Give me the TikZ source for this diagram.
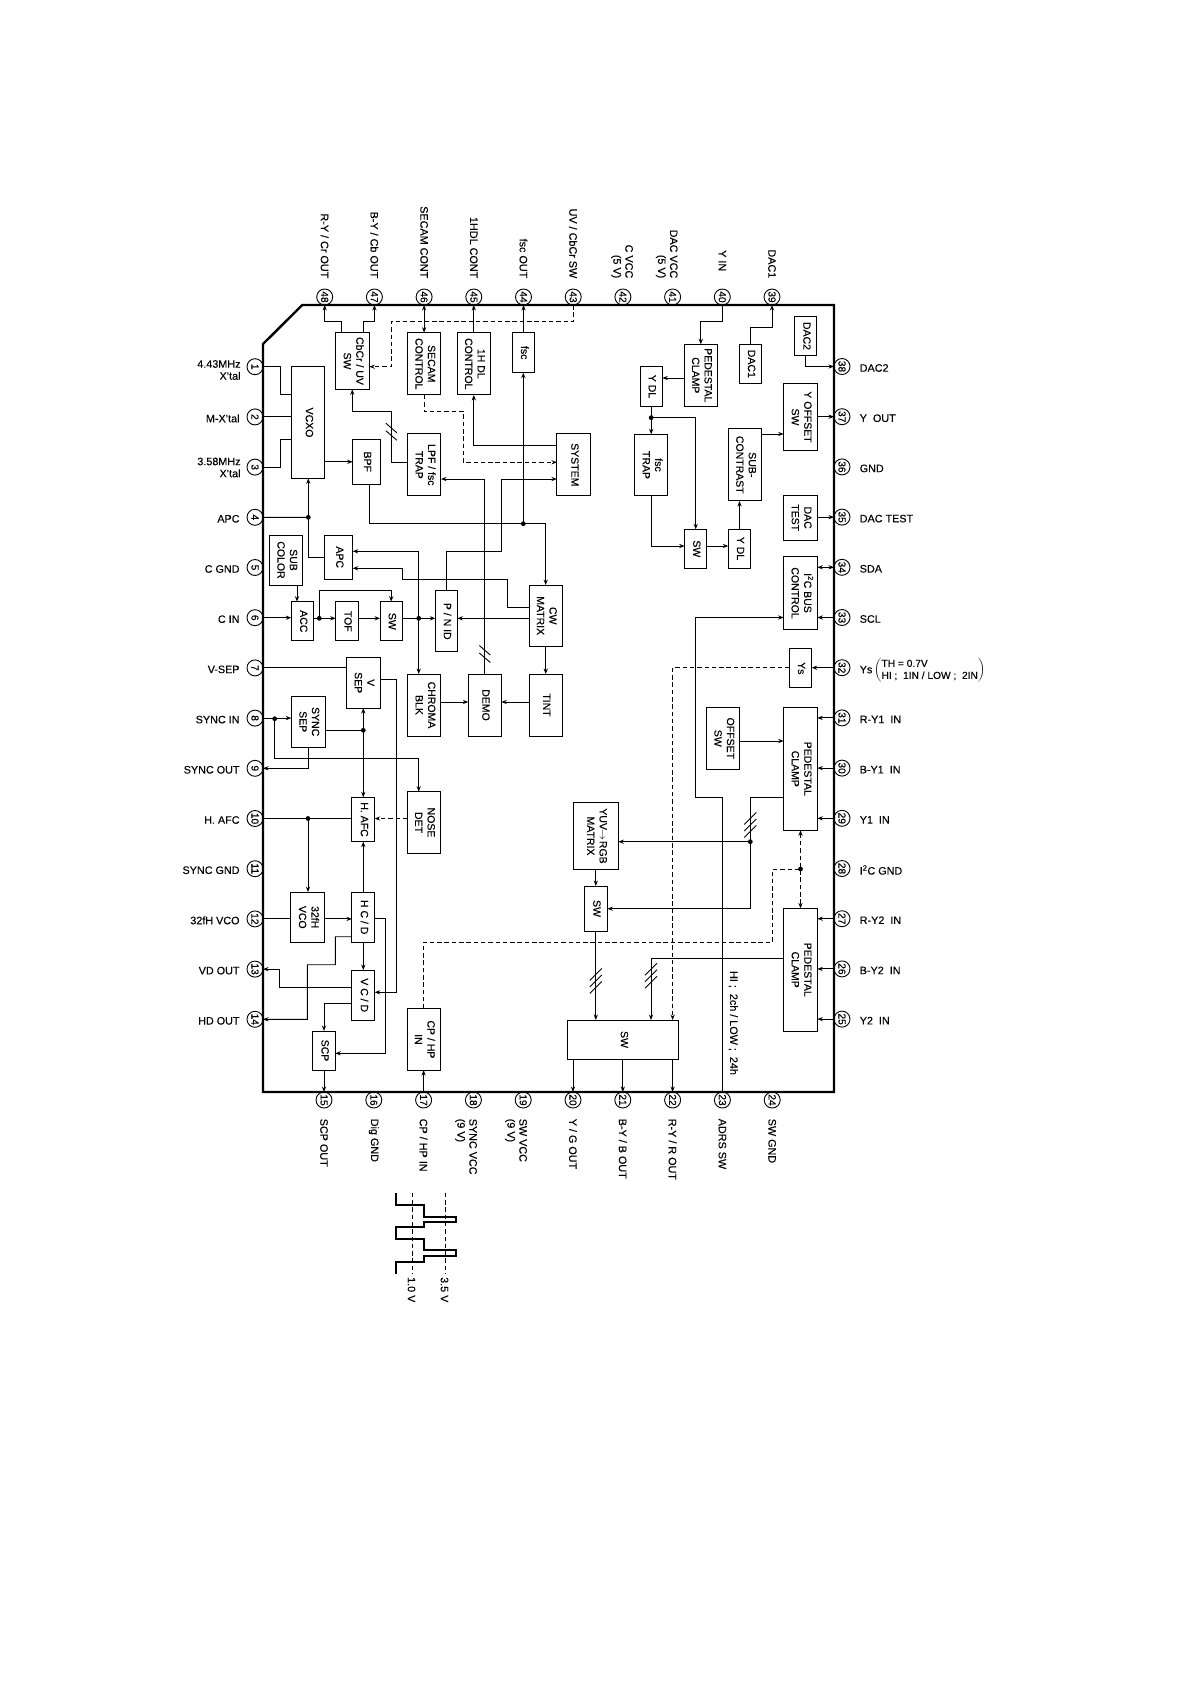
\documentclass[tikz,border=0pt]{standalone}
\usepackage{fontspec}
\setmainfont{Liberation Sans}[FakeBold=0.2]
\usetikzlibrary{arrows.meta}
\newcommand{\rtxt}[1]{\rotatebox{-90}{\begin{tabular}{@{}c@{}}#1\end{tabular}}}
\newcommand{\ticktwo}[1]{\draw[shift={(#1)}] (-5.5,-8.5) -- (5.5,1) (-5.5,-1) -- (5.5,8.5);}
\newcommand{\tickthree}[1]{\draw[shift={(#1)}] (-6,-0.5) -- (6,-12.5) (-6,6) -- (6,-6) (-6,12.5) -- (6,0.5);}
\tikzset{
  blk/.style 2 args={draw,line width=1pt,inner sep=0,outer sep=0,minimum width=#1,minimum height=#2,font=\fontsize{10.5}{12.5}\selectfont},
  pinc/.style={draw,circle,line width=0.9pt,inner sep=0,outer sep=0,minimum size=16,font=\fontsize{10.2}{10}\selectfont},
  ctl/.style={dash pattern=on 4.5pt off 2.8pt},
  lbl/.style={inner sep=0,font=\fontsize{10.8}{12}\selectfont},
  toplbl/.style={lbl,rotate=-90,anchor=east,align=right},
  botlbl/.style={lbl,rotate=-90,anchor=west,align=left},
  leftlbl/.style={lbl,anchor=east,align=right},
  rightlbl/.style={lbl,anchor=west}
}
\begin{document}
\begin{tikzpicture}[x=1pt,y=-1pt,line width=0.9pt,>={Stealth[length=5.5pt,width=4.2pt]}]
\useasboundingbox (0,0) rectangle (1190,1684);
\draw[line width=2.4pt] (302.3,305) -- (834,305) -- (834,1092) -- (263,1092) -- (263,344) -- cycle;
\foreach \n in {1,...,14} \node[pinc] (p\n) at (255,{366.7+50.2*(\n-1)}) {\rotatebox{-90}{\n}};
\foreach \n in {15,...,24} \node[pinc] (p\n) at ({324+49.8*(\n-15)},1100) {\rotatebox{-90}{\n}};
\foreach \n in {25,...,38} \node[pinc] (p\n) at (842,{366.5+50.2*(38-\n)}) {\rotatebox{-90}{\n}};
\foreach \n in {39,...,48} \node[pinc] (p\n) at ({324.7+49.7*(48-\n)},297) {\rotatebox{-90}{\n}};
\node[blk={33.6}{56.6}] (cbcr) at (352.5,361) {\rtxt{CbCr / UV\\SW}};
\node[blk={33}{62.3}] (secam) at (424.2,363.8) {\rtxt{SECAM\\CONTROL}};
\node[blk={33}{62.3}] (hdl) at (473.8,363.8) {\rtxt{1H DL\\CONTROL}};
\node[blk={22.4}{40}] (fsc) at (523.5,352.7) {\rtxt{fsc}};
\node[blk={33.3}{111.6}] (vcxo) at (308.3,422.5) {\rtxt{VCXO}};
\node[blk={27.6}{45}] (bpf) at (366.5,461.8) {\rtxt{BPF}};
\node[blk={33.3}{61.7}] (lpf) at (424.3,464.8) {\rtxt{LPF / fsc\\TRAP}};
\node[blk={33.7}{61.7}] (system) at (573.8,464.8) {\rtxt{SYSTEM}};
\node[blk={33}{50}] (subcol) at (286.2,560) {\rtxt{SUB\\COLOR}};
\node[blk={28}{44.3}] (apc) at (338.7,557.2) {\rtxt{APC}};
\node[blk={22.7}{39.3}] (acc) at (302.6,621.3) {\rtxt{ACC}};
\node[blk={22.6}{39.3}] (tof) at (347,621.3) {\rtxt{TOF}};
\node[blk={22.3}{39.3}] (swa) at (391.2,621.3) {\rtxt{SW}};
\node[blk={22}{61.3}] (pnid) at (446.3,621.3) {\rtxt{P / N ID}};
\node[blk={33.3}{61.3}] (cw) at (545.7,615.7) {\rtxt{CW\\MATRIX}};
\node[blk={33.6}{50.7}] (vsep) at (363.5,682.7) {\rtxt{V\\SEP}};
\node[blk={33.3}{62}] (chroma) at (424.3,705) {\rtxt{CHROMA\\BLK}};
\node[blk={33}{62}] (demo) at (484.8,705) {\rtxt{DEMO}};
\node[blk={33.3}{62}] (tint) at (545.7,705) {\rtxt{TINT}};
\node[blk={33.7}{50.7}] (syncsep) at (308.2,721.7) {\rtxt{SYNC\\SEP}};
\node[blk={33}{61.6}] (nose) at (423.8,822.5) {\rtxt{NOSE\\DET}};
\node[blk={22.7}{44.4}] (hafc) at (363.3,819.5) {\rtxt{H. AFC}};
\node[blk={34}{50.3}] (vco) at (307.7,917.2) {\rtxt{32fH\\VCO}};
\node[blk={22.7}{50.3}] (hcd) at (363.3,917.2) {\rtxt{H C / D}};
\node[blk={22.7}{50.3}] (vcd) at (363.3,995.2) {\rtxt{V C / D}};
\node[blk={22.6}{39}] (scp) at (324,1050.5) {\rtxt{SCP}};
\node[blk={33.3}{61.3}] (cphp) at (423.7,1039.4) {\rtxt{CP / HP\\IN}};
\node[blk={33}{62}] (pedy) at (700.8,375.3) {\rtxt{PEDESTAL\\CLAMP}};
\node[blk={22.3}{39.6}] (ydla) at (651.2,386.5) {\rtxt{Y DL}};
\node[blk={22.4}{39}] (daca) at (750.5,363.8) {\rtxt{DAC1}};
\node[blk={22.3}{39.4}] (dacb) at (805.8,336) {\rtxt{DAC2}};
\node[blk={33.6}{67.4}] (yoff) at (800.5,417) {\rtxt{Y OFFSET\\SW}};
\node[blk={33.3}{61.4}] (fsctrap) at (651.3,465) {\rtxt{fsc\\TRAP}};
\node[blk={33.4}{72.3}] (subcon) at (745,464.8) {\rtxt{SUB-\\CONTRAST}};
\node[blk={33.6}{44.7}] (dactest) at (800.5,517.7) {\rtxt{DAC\\TEST}};
\node[blk={22}{39}] (swb) at (695.7,548.8) {\rtxt{SW}};
\node[blk={22.4}{39}] (ydlb) at (739.5,548.5) {\rtxt{Y DL}};
\node[blk={33.6}{72.6}] (i2c) at (800.5,593) {\rtxt{I\textsuperscript{2}C BUS\\CONTROL}};
\node[blk={22.4}{39.3}] (ys) at (800.5,668.3) {\rtxt{Ys}};
\node[blk={33}{62}] (offset) at (723.2,738.3) {\rtxt{OFFSET\\SW}};
\node[blk={33.6}{123}] (peda) at (800.5,768.8) {\rtxt{PEDESTAL\\CLAMP}};
\node[blk={33.6}{122.7}] (pedb) at (800.5,969.7) {\rtxt{PEDESTAL\\CLAMP}};
\node[blk={45}{67.4}] (yuv) at (595.8,836) {\rtxt{YUV$\rightarrow$RGB\\MATRIX}};
\node[blk={23}{45}] (swc) at (595.8,908.5) {\rtxt{SW}};
\node[blk={111.3}{39}] (swd) at (623.3,1039.5) {\rtxt{SW}};
\coordinate (dfsc) at (523.3,523.7);
\coordinate (dapc) at (308.3,517.3);
\coordinate (dacc) at (319.3,618.3);
\coordinate (dchr) at (418.7,618.3);
\coordinate (dsync) at (274.7,718.7);
\coordinate (dsep) at (363.3,730.3);
\coordinate (dafc) at (308,818.5);
\coordinate (dydl) at (651.2,417.7);
\coordinate (dyuv) at (750.3,841.7);
\coordinate (dped) at (800.5,869);
\foreach \d in {dfsc,dapc,dacc,dchr,dsync,dsep,dafc,dydl,dyuv,dped} \fill (\d) circle (2.4pt);
\draw[->] (cbcr.north -| 341.7,0) -- (341.7,321.7) -| (p48.south);
\draw[->] (cbcr.north -| 363.3,0) -- (363.3,321.7) -| (p47.south);
\draw[<->] (p46.south) -- (secam.north -| p46);
\draw[->] (hdl.north -| p45) -- (p45.south);
\draw[->] (fsc.north -| p44) -- (p44.south);
\draw[ctl,->] (p43.south) |- (391,321.7) |- (cbcr.east |- 0,366.7);
\draw (p1.east) -| (280.3,394.7) -- (vcxo.west |- 0,394.7);
\draw (p2.east) -- (vcxo.west |- p2);
\draw (p3.east) -| (280.3,439.3) -- (vcxo.west |- 0,439.3);
\draw[->] (vcxo.east |- bpf) -- (bpf.west);
\draw[->] (bpf.south -| 369.3,0) |- (dfsc) -| (cw.north);
\draw[->] (dfsc) -- (fsc.south -| dfsc);
\draw[->] (lpf.west |- 0,462.3) -| (391.3,411.3) -| (cbcr.south -| 352.3,0);
\ticktwo{391.3,431.7}
\draw[ctl,->] (secam.south -| p46) |- (463,411.3) |- (system.west |- 0,462.3);
\draw[->] (system.west |- 0,445.7) -| (hdl.south -| p45);
\draw[->] (pnid.north) |- (501.3,551.3) |- (system.west |- 0,479);
\draw[->] (demo.north) |- (lpf.east |- 0,479);
\ticktwo{484.8,654}
\draw[->] (apc.west) -| (vcxo.south);
\draw (p4.east) -- (dapc);
\draw[->] (dchr) |- (apc.east |- 0,551.3);
\draw[->] (dchr) -- (chroma.north -| dchr);
\draw[->] (swa.east |- dchr) -- (pnid.west |- dchr);
\draw[->] (cw.west |- 0,607.3) -| (507.3,579.3) -| (402.3,568.3) -- (apc.east |- 0,568.3);
\draw[->] (p6.east) -- (acc.west |- p6);
\draw[->] (acc.east |- dacc) -- (tof.west |- dacc);
\draw[->] (tof.east |- dacc) -- (swa.west |- dacc);
\draw[->] (dacc) |- (swa.north |- 0,590.7) -- (swa.north);
\draw[->] (cw.west |- dchr) -- (pnid.east |- dchr);
\draw[->] (subcol.south -| 297,0) -- (acc.north -| 297,0);
\draw[->] (cw.south) -- (tint.north);
\draw[->] (chroma.east |- 0,702) -- (demo.west |- 0,702);
\draw[->] (tint.west |- 0,702) -- (demo.east |- 0,702);
\draw (p7.east) -- (vsep.west |- p7);
\draw[->] (vsep.east |- 0,679.7) -| (396.7,992.3) -- (vcd.east |- 0,992.3);
\draw[->] (p8.east) -- (syncsep.west |- p8);
\draw[->] (dsync) |- (418.7,758) -- (nose.north -| 418.7,0);
\draw (syncsep.east |- dsep) -- (dsep);
\draw[->] (dsep) -- (vsep.south -| dsep);
\draw[->] (dsep) -- (hafc.north -| dsep);
\draw[->] (syncsep.south) |- (p9.east);
\draw[ctl,->] (nose.west |- p10) -- (hafc.east |- p10);
\draw (p10.east) -- (hafc.west |- p10);
\draw[->] (dafc) -- (vco.north -| dafc);
\draw[->] (hcd.north) -- (hafc.south);
\draw (p12.east) -- (vco.west |- p12);
\draw[->] (vco.east |- p12) -- (hcd.west |- p12);
\draw[->] (hcd.south) -- (vcd.north);
\draw[->] (hcd.east |- p12) -| (385.3,1053.3) -- (scp.east |- 0,1053.3);
\draw[->] (hcd.west |- 0,936.7) -| (335.3,964.7) -| (307.3,1019.3) -- (p14.east);
\draw[->] (vcd.west |- 0,987) -| (p13.east -| 279.3,0) -- (p13.east);
\draw[->] (vcd.west |- 0,1003) -| (scp.north);
\draw[->] (scp.south) -- (p15.north);
\draw[->] (p17.north) -- (cphp.south -| p17);
\draw[ctl] (cphp.north -| p17) |- (772.7,942) |- (dped);
\draw[ctl,<->] (peda.south) -- (pedb.north);
\draw[->] (p40.south) |- (pedy.north |- 0,321.7) -- (pedy.north);
\draw[->] (pedy.west |- 0,378) -- (ydla.east |- 0,378);
\draw[->] (ydla.south) -- (fsctrap.north -| ydla);
\draw[->] (dydl) -| (swb.north);
\draw[->] (fsctrap.south) |- (swb.west |- 0,546);
\draw[->] (swb.east |- 0,546) -- (ydlb.west |- 0,546);
\draw[->] (ydlb.north) -- (subcon.south -| ydlb);
\draw[->] (subcon.east |- 0,434) -- (yoff.west |- 0,434);
\draw[->] (yoff.east |- p37) -- (p37.west);
\draw[->] (daca.north -| 750,0) |- (p39.south |- 0,327) -- (p39.south);
\draw[->] (dacb.south) |- (p38.west);
\draw[->] (dactest.east |- p35) -- (p35.west);
\draw[<->] (i2c.east |- p34) -- (p34.west);
\draw[->] (p33.west) -- (i2c.east |- p33);
\draw[->] (p23.north) |- (695.3,797) |- (i2c.west |- p33);
\draw[->] (p32.west) -- (ys.east |- p32);
\draw[ctl,->] (ys.west |- p32) -| (swd.north -| p22);
\draw[->] (peda.west |- 0,797) -| (750.3,908.7) -- (swc.east |- 0,908.7);
\tickthree{750.3,825}
\draw[->] (dyuv) -- (yuv.east |- dyuv);
\draw[->] (yuv.south) -- (swc.north);
\draw[->] (swc.south) -- (swd.north -| swc);
\tickthree{595.8,981}
\draw[->] (pedb.west |- 0,958.7) -| (swd.north -| 651,0);
\tickthree{651,975.7}
\foreach \n/\b in {31/peda,30/peda,29/peda,27/pedb,26/pedb,25/pedb} \draw[->] (p\n.west) -- (\b.east |- p\n);
\draw[->] (offset.east |- 0,741) -- (peda.west |- 0,741);
\foreach \n in {20,21,22} \draw[->] (swd.south -| p\n) -- (p\n.north);
\node[lbl,rotate=-90] (adrs) at (733.3,1023) {HI\ ;\ \ 2ch\ /\ LOW\ ;\ \ 24h};
\foreach \n/\txt in {48/{R-Y / Cr OUT},47/{B-Y / Cb OUT},46/{SECAM CONT},45/{1HDL CONT},44/{fsc OUT},43/{UV / CbCr SW},39/{DAC1}}
  \node[toplbl] (l\n) at (p\n |- 0,278.7) {\txt};
\node[toplbl] (l40) at (p40 |- 0,271.7) {Y IN};
\node[toplbl] (l42) at (622,278.7) {C VCC\\(5 V)};
\node[toplbl] (l41) at (666.7,278.7) {DAC VCC\\(5 V)};
\foreach \n/\txt in {15/{SCP OUT},16/{Dig GND},17/{CP / HP IN},20/{Y / G OUT},21/{B-Y / B OUT},22/{R-Y / R OUT},23/{ADRS SW},24/{SW GND}}
  \node[botlbl] (l\n) at (p\n |- 0,1118.3) {\txt};
\node[botlbl] (l18) at (466,1118.3) {SYNC VCC\\(9 V)};
\node[botlbl] (l19) at (516,1118.3) {SW VCC\\(9 V)};
\node[leftlbl] (l1) at (241,370) {4.43MHz\\X’tal};
\node[leftlbl] (l3) at (241,467.5) {3.58MHz\\X’tal};
\foreach \n/\txt in {2/{M-X’tal},4/{APC},5/{C\ GND},6/{C\ IN},7/{V-SEP},8/{SYNC IN},9/{SYNC OUT},10/{H.\ AFC},11/{SYNC GND},12/{32fH VCO},13/{VD OUT},14/{HD OUT}}
  \node[leftlbl] (l\n) at ([yshift=-1.5pt]240,0 |- p\n) {\txt};
\foreach \n/\txt in {38/{DAC2},37/{Y\ \ OUT},36/{GND},35/{DAC TEST},34/{SDA},33/{SCL},31/{R-Y1\ \ IN},30/{B-Y1\ \ IN},29/{Y1\ \ IN},28/{I\textsuperscript{2}C GND},27/{R-Y2\ \ IN},26/{B-Y2\ \ IN},25/{Y2\ \ IN}}
  \node[rightlbl] (l\n) at ([yshift=-1.5pt]859.3,0 |- p\n) {\txt};
\node[rightlbl] (l32) at (859.3,670.5) {Ys\,$\left(\begin{tabular}{@{}l@{}}\fontsize{10.2}{12}\selectfont TH = 0.7V\\\fontsize{10.2}{12}\selectfont HI ;\ \ 1IN / LOW ;\ \ 2IN\end{tabular}\right)$};
\draw[line width=2pt] (395.7,1192.7) -- (395.7,1205) -- (424,1205) -- (424,1216.7) -- (456.3,1216.7) -- (456.3,1222.3) -- (424,1222.3) -- (424,1227.3) -- (395.7,1227.3) -- (395.7,1238.7) -- (424,1238.7) -- (424,1250) -- (456.3,1250) -- (456.3,1256) -- (424,1256) -- (424,1261.7) -- (395.7,1261.7) -- (395.7,1274);
\coordinate (vone) at (412.3,1192.7);
\coordinate (vtwo) at (445.3,1192.7);
\draw[ctl] (vone) -- (412.3,1274);
\draw[ctl] (vtwo) -- (445.3,1274);
\node[botlbl] (lone) at (411.5,1276.7) {1.0 V};
\node[botlbl] (ltwo) at (444.5,1276.7) {3.5 V};
\end{tikzpicture}
\end{document}
